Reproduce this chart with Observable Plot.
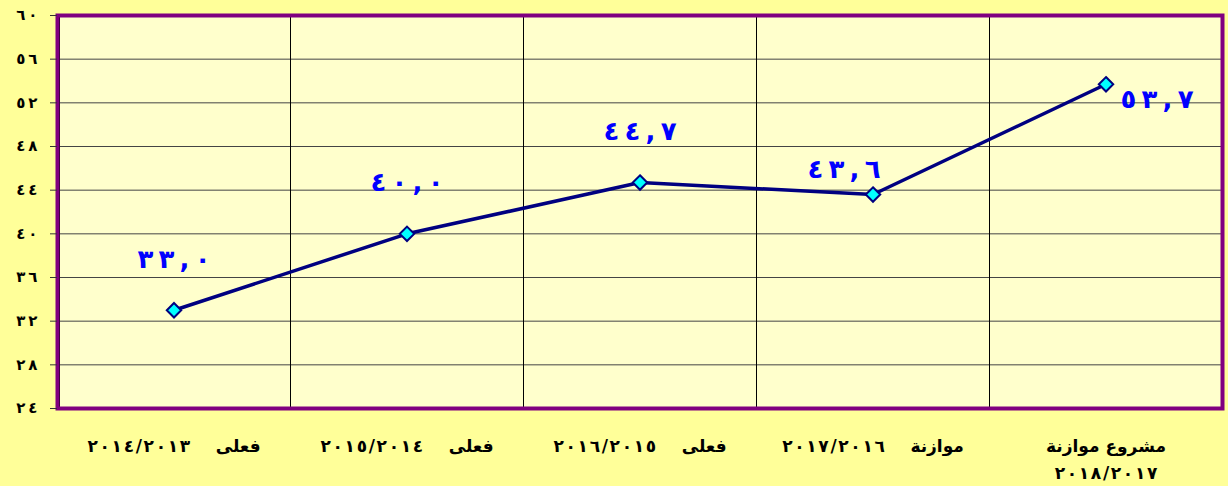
<!DOCTYPE html>
<html><head><meta charset="utf-8">
<script src="https://cdn.jsdelivr.net/npm/d3@7"></script>
<script src="https://cdn.jsdelivr.net/npm/@observablehq/plot@0.6"></script>
<style>body{margin:0;background:#FFFF99;}</style>
</head><body><div id="chart"></div>
<script>
const categories = ["فعلى ٢٠١٤/٢٠١٣", "فعلى ٢٠١٥/٢٠١٤", "فعلى ٢٠١٦/٢٠١٥", "موازنة ٢٠١٧/٢٠١٦", "مشروع موازنة\n٢٠١٨/٢٠١٧"];
const values = [33.0, 40.0, 44.7, 43.6, 53.7];
const yTicks = [24, 28, 32, 36, 40, 44, 48, 52, 56, 60];

const LRO = "\u202D", PDF = "\u202C", THIN = "\u2009", HAIR = "\u200A";
const toAr = s => String(s).replace(/\d/g, d => "٠١٢٣٤٥٦٧٨٩"[d]);
const spaced = (s, sep = THIN) => LRO + [...s].join(sep) + PDF;
const fmt = v => spaced(toAr(v.toFixed(1)).replace(".", ","));
const fmtCat = c => c.replace(/ ([٠-٩])/g, "\u2003\u2002$1").replace(/[٠-٩\/]+/g, m => spaced(m, HAIR));
const data = values.map((v, i) => ({i, pos: i + 0.5, v}));
const bounds = categories.slice(1).map((c, i) => i + 1);

const labelStyle = {x: "pos", y: "v", text: d => fmt(d.v), fill: "#0000FF", fontSize: 26, fontWeight: "bold"};

const chart = Plot.plot({
  width: 1228, height: 486,
  marginLeft: 57, marginRight: 6, marginTop: 15, marginBottom: 78,
  style: {background: "#FFFF99", fontFamily: "DejaVu Sans, sans-serif", overflow: "visible"},
  x: {domain: [0, 5], label: null},
  y: {domain: [24, 60], label: null},
  marks: [
    Plot.frame({fill: "#FFFFCC"}),
    Plot.gridY(yTicks.slice(1, -1), {stroke: "#444", strokeOpacity: 1, strokeWidth: 1}),
    Plot.ruleX(bounds, {stroke: "#000", strokeWidth: 1}),
    Plot.ruleX([0], {stroke: "#000", strokeWidth: 1, dx: 2}),
    Plot.frame({stroke: "#800080", strokeWidth: 4}),
    Plot.axisY({ticks: yTicks, tickFormat: d => spaced(toAr(d)), tickSize: 7, tickPadding: 13, fontSize: 15, fontWeight: "bold", stroke: "#333", fill: "#000"}),
    Plot.axisX({ticks: data.map(d => d.pos), tickFormat: d => fmtCat(categories[Math.floor(d)]), tickSize: 0, tickPadding: 25, fontSize: 17, fontWeight: "bold", fill: "#000", lineHeight: 1.55}),
    Plot.line(data, {x: "pos", y: "v", stroke: "#000080", strokeWidth: 3.5}),
    Plot.dot(data, {x: "pos", y: "v", symbol: "diamond2", r: 6.5, fill: "#00FFFF", stroke: "#000080", strokeWidth: 2}),
    Plot.text(data.filter(d => d.i < 3), {...labelStyle, dy: -51}),
    Plot.text(data.filter(d => d.i === 3), {...labelStyle, dx: -29, dy: -25}),
    Plot.text(data.filter(d => d.i === 4), {...labelStyle, dx: 51, dy: 15})
  ]
});
d3.select(chart).selectAll("g[aria-label='x-axis tick label'] text").attr("direction", "rtl");
document.getElementById("chart").append(chart);
</script>
</body></html>
